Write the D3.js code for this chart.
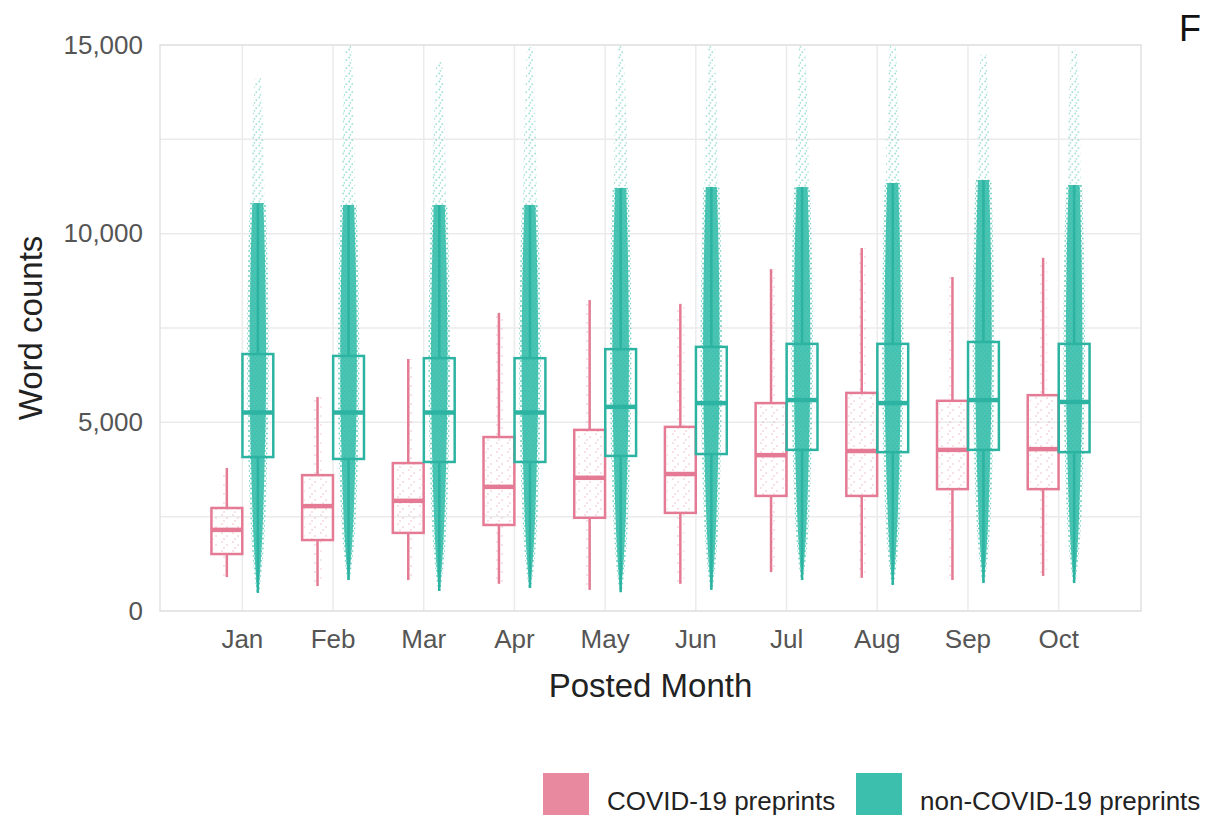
<!DOCTYPE html>
<html>
<head>
<meta charset="utf-8">
<script src="https://cdn.jsdelivr.net/npm/d3@7"></script>
<style>
  body { margin: 0; background: #fff; }
  text { font-family: "Liberation Sans", Arial, sans-serif; }
</style>
</head>
<body>
<svg id="chart" width="1209" height="815"></svg>
<script>
// months on the x axis
const months = ["Jan", "Feb", "Mar", "Apr", "May", "Jun", "Jul", "Aug", "Sep", "Oct"];

// COVID-19 preprints, box stats (word counts)
const covidLo  = [900, 660, 820, 720, 560, 720, 1030, 880, 820, 930];
const covidQ1  = [1510, 1880, 2070, 2280, 2470, 2600, 3050, 3050, 3230, 3230];
const covidMed = [2150, 2780, 2920, 3290, 3530, 3630, 4130, 4240, 4270, 4290];
const covidQ3  = [2730, 3600, 3920, 4610, 4800, 4880, 5510, 5780, 5570, 5720];
const covidHi  = [3790, 5670, 6680, 7900, 8240, 8140, 9060, 9620, 8850, 9360];

// non-COVID-19 preprints, box stats + largest point shown
const nonLo  = [480, 820, 530, 610, 500, 560, 820, 690, 740, 740];
const nonQ1  = [4080, 4030, 3950, 3950, 4110, 4160, 4270, 4210, 4270, 4210];
const nonMed = [5260, 5260, 5260, 5260, 5410, 5510, 5590, 5510, 5590, 5540];
const nonQ3  = [6810, 6760, 6700, 6700, 6940, 7000, 7080, 7080, 7130, 7080];
const nonHi  = [10810, 10760, 10760, 10760, 11210, 11240, 11240, 11340, 11420, 11290];
const nonMax = [14150, 15000, 14550, 14950, 15000, 15000, 15000, 15000, 14750, 14870];

const yTicks = [0, 5000, 10000, 15000];
const legendLabels = ["COVID-19 preprints", "non-COVID-19 preprints"];

const pink = "#e47a94", pinkFill = "#e8899f";
const teal = "#2db3a1", tealCloud = "#3cbfad", tealFill = "#3dbfae";

const svg = d3.select("#chart");
const pL = 160, pR = 1141, pT = 45, pB = 611;

const x = d3.scaleBand().domain(months).range([pL, pR]).paddingOuter(0.408).paddingInner(0);
const step = x.step();
const cx = m => x(m) + step / 2;
const dodge = 0.171 * step, boxW = 0.34 * step;
const y = d3.scaleLinear().domain([0, 15000]).range([pB, pT]);

const covid = months.map((m, i) => ({m, lo: covidLo[i], q1: covidQ1[i], med: covidMed[i], q3: covidQ3[i], hi: covidHi[i]}));
const non = months.map((m, i) => ({m, lo: nonLo[i], q1: nonQ1[i], med: nonMed[i], q3: nonQ3[i], hi: nonHi[i], max: nonMax[i]}));

// dot textures for the jittered points
const defs = svg.append("defs");
const tp = defs.append("pattern").attr("id", "tealDots").attr("patternUnits", "userSpaceOnUse")
  .attr("width", 6).attr("height", 8);
[[1.2, 1.5], [4.3, 4.2], [2.4, 6.8]].forEach(p => tp.append("circle").attr("cx", p[0]).attr("cy", p[1]).attr("r", 0.9)
  .attr("fill", tealCloud).attr("opacity", 0.5));
const te = defs.append("pattern").attr("id", "tealEdge").attr("patternUnits", "userSpaceOnUse")
  .attr("width", 4).attr("height", 5);
[[1, 1], [3, 3.5]].forEach(p => te.append("circle").attr("cx", p[0]).attr("cy", p[1]).attr("r", 1)
  .attr("fill", tealCloud).attr("opacity", 0.75));
const pp = defs.append("pattern").attr("id", "pinkDots").attr("patternUnits", "userSpaceOnUse")
  .attr("width", 11).attr("height", 9);
[[2, 2], [7, 5], [4, 8]].forEach(p => pp.append("circle").attr("cx", p[0]).attr("cy", p[1]).attr("r", 1)
  .attr("fill", pink).attr("opacity", 0.3));

// grid
const grid = svg.append("g");
grid.selectAll("line.h").data(d3.range(0, 15001, 2500)).join("line").attr("class", "h")
  .attr("x1", pL).attr("x2", pR).attr("y1", d => y(d)).attr("y2", d => y(d))
  .attr("stroke", "#ebebeb").attr("stroke-width", 1.5);
grid.selectAll("line.v").data(months).join("line").attr("class", "v")
  .attr("x1", d => cx(d)).attr("x2", d => cx(d)).attr("y1", pT).attr("y2", pB)
  .attr("stroke", "#ebebeb").attr("stroke-width", 1.5);
svg.append("rect").attr("x", pL).attr("y", pT).attr("width", pR - pL).attr("height", pB - pT)
  .attr("fill", "none").attr("stroke", "#e2e2e2").attr("stroke-width", 1.5);

// axes
const yAxis = d3.axisLeft(y).tickValues(yTicks).tickFormat(d3.format(",")).tickSize(0).tickPadding(17);
svg.append("g").attr("transform", `translate(${pL},0)`).call(yAxis)
  .attr("font-size", 26).attr("font-family", "Liberation Sans, Arial, sans-serif")
  .call(g => g.select(".domain").remove())
  .selectAll("text").attr("fill", "#555");
const xAxis = d3.axisBottom(x).tickSize(0).tickPadding(19);
svg.append("g").attr("transform", `translate(0,${pB})`).call(xAxis)
  .attr("font-size", 26).attr("font-family", "Liberation Sans, Arial, sans-serif")
  .call(g => g.select(".domain").remove())
  .selectAll("text").attr("fill", "#555");

svg.append("text").attr("x", (pL + pR) / 2).attr("y", 697).attr("text-anchor", "middle")
  .attr("font-size", 33).attr("fill", "#222").text("Posted Month");
svg.append("text").attr("transform", `translate(42,${(pT + pB) / 2}) rotate(-90)`).attr("text-anchor", "middle")
  .attr("font-size", 33).attr("fill", "#222").text("Word counts");
svg.append("text").attr("x", 1179).attr("y", 41).attr("font-size", 36).attr("fill", "#111").text("F");

// COVID points
const pinkArea = d3.area().y(p => y(p.v)).x0(p => p.c - p.w).x1(p => p.c + p.w);
svg.append("g").selectAll("path").data(covid).join("path")
  .attr("d", d => {
    const c = cx(d.m) - dodge;
    return pinkArea([{v: d.lo, w: 4, c}, {v: d.q1, w: 4, c}, {v: d.q1, w: boxW / 2 - 2, c},
      {v: d.q3, w: boxW / 2 - 2, c}, {v: d.q3, w: 4, c}, {v: d.hi, w: 4, c}]);
  })
  .attr("fill", "url(#pinkDots)");

// non-COVID point clouds
const cloudArea = d3.area().y(p => y(p.v)).x0(p => p.c - p.w).x1(p => p.c + p.w).curve(d3.curveBasis);
const cloudPts = (d, c, extra) => [
  {v: d.lo, w: 0.5 + extra * 0.3, c},
  {v: d.lo + (d.q1 - d.lo) * 0.35, w: 4.5 + extra, c},
  {v: d.q1, w: 7 + extra, c},
  {v: d.med, w: 8 + extra, c},
  {v: d.q3, w: 8.5 + extra, c},
  {v: d.q3 + (d.hi - d.q3) * 0.6, w: 7.5 + extra, c},
  {v: d.hi, w: 5.5 + extra, c}
];
const clouds = svg.append("g");
clouds.selectAll("path.sparse").data(non).join("path").attr("class", "sparse")
  .attr("d", d => {
    const c = cx(d.m) + dodge;
    return cloudArea([{v: d.hi - 300, w: 7, c}, {v: (d.hi + d.max) / 2, w: 6, c}, {v: d.max, w: 3, c}]);
  })
  .attr("fill", "url(#tealDots)");
clouds.selectAll("path.edge").data(non).join("path").attr("class", "edge")
  .attr("d", d => cloudArea(cloudPts(d, cx(d.m) + dodge, 2.5)))
  .attr("fill", "url(#tealEdge)");
clouds.selectAll("path.dense").data(non).join("path").attr("class", "dense")
  .attr("d", d => cloudArea(cloudPts(d, cx(d.m) + dodge, 0)))
  .attr("fill", tealCloud).attr("opacity", 0.92);

// boxes
function drawBoxes(data, off, color) {
  const g = svg.append("g").attr("stroke", color).attr("fill", "none");
  const c = d => cx(d.m) + off;
  g.selectAll("line.wu").data(data).join("line").attr("class", "wu").attr("x1", c).attr("x2", c)
    .attr("y1", d => y(d.q3)).attr("y2", d => y(d.hi)).attr("stroke-width", 2.5);
  g.selectAll("line.wl").data(data).join("line").attr("class", "wl").attr("x1", c).attr("x2", c)
    .attr("y1", d => y(d.q1)).attr("y2", d => y(d.lo)).attr("stroke-width", 2.5);
  g.selectAll("rect").data(data).join("rect")
    .attr("x", d => c(d) - boxW / 2).attr("width", boxW)
    .attr("y", d => y(d.q3)).attr("height", d => y(d.q1) - y(d.q3)).attr("stroke-width", 2.5);
  g.selectAll("line.med").data(data).join("line").attr("class", "med")
    .attr("x1", d => c(d) - boxW / 2).attr("x2", d => c(d) + boxW / 2)
    .attr("y1", d => y(d.med)).attr("y2", d => y(d.med)).attr("stroke-width", 4.5);
}
drawBoxes(covid, -dodge, pink);
drawBoxes(non, dodge, teal);

// legend
const leg = svg.append("g");
const legX = [543, 856];
leg.selectAll("rect").data(legendLabels).join("rect")
  .attr("x", (d, i) => legX[i]).attr("y", 773).attr("width", 46).attr("height", 50)
  .attr("fill", (d, i) => i ? tealFill : pinkFill);
leg.selectAll("text").data(legendLabels).join("text")
  .attr("x", (d, i) => legX[i] + 64).attr("y", 810).attr("font-size", 26).attr("fill", "#222")
  .text(d => d);
</script>
</body>
</html>
